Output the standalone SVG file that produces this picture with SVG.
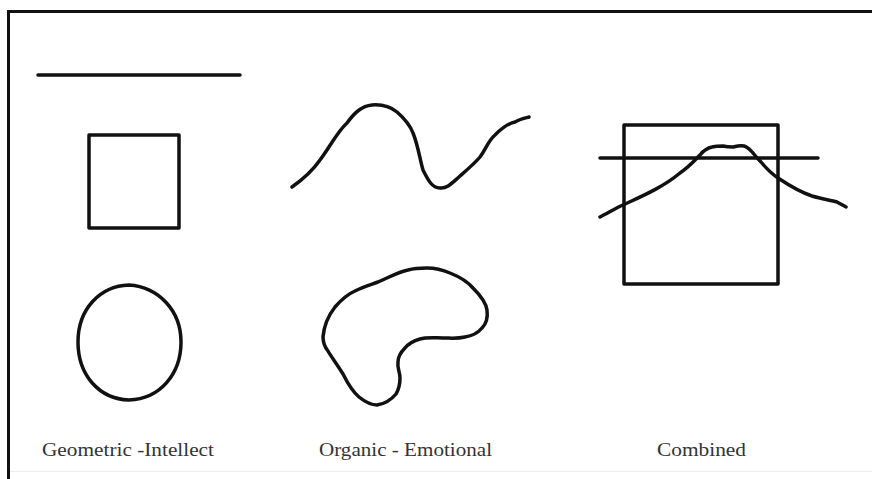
<svg xmlns="http://www.w3.org/2000/svg" width="872" height="479" viewBox="0 0 872 479">
<style>
.ink{fill:none;stroke:#111;stroke-width:3.5;stroke-linejoin:round;stroke-linecap:round}
.frame{stroke:#111;stroke-width:3;fill:none}
.lbl{font-family:"Liberation Serif","Times New Roman",serif;font-size:18px;fill:#333}
</style>
<rect x="0" y="0" width="872" height="479" fill="#fff"/>
<g id="frame">
<line class="frame" x1="7" y1="11.5" x2="872" y2="11.5"/>
<line class="frame" x1="8.5" y1="10" x2="8.5" y2="479"/>
<line x1="10" y1="471.5" x2="872" y2="471.5" stroke="#eee" stroke-width="1"/>
</g>
<g id="geometric">
<g id="g-line"><line class="ink" x1="38" y1="75" x2="240" y2="75" stroke-linecap="butt" stroke-width="4"/></g>
<g id="g-square"><rect class="ink" x="89" y="135" width="90" height="93"/></g>
<g id="g-circle"><path class="ink" d="M129,285 C158,287 181,310 181,342 C181,374 160,399 129,400 C99,399 78,375 78,342 C78,309 100,286 129,285 Z"/></g>
<text class="lbl" x="42" y="456" textLength="172" lengthAdjust="spacingAndGlyphs">Geometric -Intellect</text>
</g>
<g id="organic">
<g id="o-wave"><path class="ink" d="M292,187 C302,180 313,170 320,160 C330,147 337,132 347,123 C355,112 362,106 372,105 C384,104 392,108 397,112 C405,119 410,125 413,133 C418,145 420,160 423,170 C428,180 432,188 440,188 C447,189 452,183 460,176 C468,169 475,163 480,157 C486,149 488,141 495,135 C503,127 510,123 515,122 C520,119 525,118 529,117"/></g>
<g id="o-blob"><path class="ink" d="M323,337 C324,325 328,316 335,307 C342,299 348,294 355,291 C363,287 370,285 378,282 C390,277 398,272 408,270 C415,268 420,268 427,268 C436,268 443,270 450,273 C460,277 467,281 473,288 C480,295 486,302 487,310 C488,318 486,324 482,328 C477,334 472,336 465,337 C457,339 450,338 443,338 C435,338 427,337 420,339 C413,341 409,343 405,348 C400,353 398,357 398,362 C397,368 400,372 400,378 C400,384 399,389 396,394 C391,400 384,404 377,405 C370,405 364,401 359,397 C353,392 348,384 343,374 C337,364 332,358 328,351 C324,346 323,341 323,337 Z"/></g>
<text class="lbl" x="319" y="456" textLength="173" lengthAdjust="spacingAndGlyphs">Organic - Emotional</text>
</g>
<g id="combined">
<g id="c-square"><rect class="ink" x="624" y="125" width="154" height="159"/></g>
<g id="c-line"><line class="ink" x1="600" y1="158" x2="818" y2="158" stroke-linecap="butt"/></g>
<g id="c-curve"><path class="ink" d="M600,217 C608,213 616,208 623,205 C640,197 662,188 680,173 C690,166 695,160 700,155 C704,150 707,148 712,147 C716,146 720,146 723,146 C727,147 730,147 733,147 C737,146 740,145 744,146 C748,147 750,150 753,153 C756,157 758,159 761,162 C766,168 772,174 778,178 C790,186 800,192 812,196 C822,199 830,200 837,202 C841,204 844,206 846,207"/></g>
<text class="lbl" x="657" y="456" textLength="89" lengthAdjust="spacingAndGlyphs">Combined</text>
</g>
</svg>
